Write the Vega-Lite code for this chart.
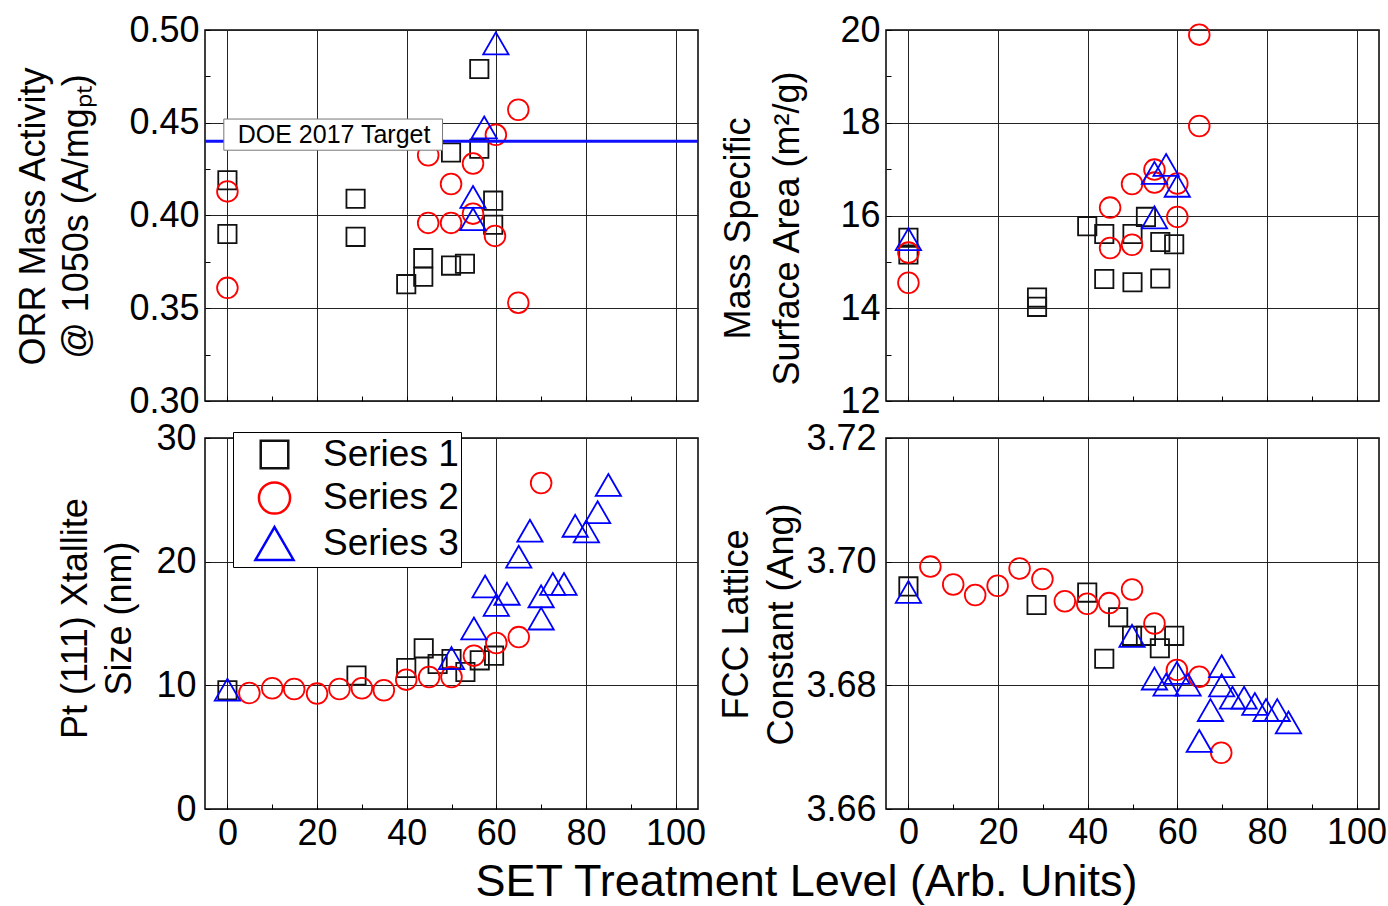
{
  "$schema": "https://vega.github.io/schema/vega-lite/v6.json",
  "padding": {"left": 14, "top": 11, "right": 5, "bottom": 0},
  "background": "white",
  "config": {
    "font": "Liberation Sans",
    "view": {"stroke": "#000", "strokeWidth": 1.5},
    "axis": {
      "labelFont": "Liberation Sans", "labelFontSize": 36, "labelColor": "#000",
      "titleFont": "Liberation Sans", "titleFontSize": 36, "titleFontWeight": "normal", "titleColor": "#000",
      "domain": false, "tickColor": "#000", "tickSize": -5, "tickWidth": 1,
      "gridColor": "#222", "gridWidth": 1
    }
  },
  "datasets": {
    "tl": [
      {"x":0,"y":0.419,"s":"Series 1"},{"x":0,"y":0.390,"s":"Series 1"},{"x":28.6,"y":0.409,"s":"Series 1"},{"x":28.6,"y":0.3885,"s":"Series 1"},
      {"x":39.9,"y":0.363,"s":"Series 1"},{"x":43.7,"y":0.377,"s":"Series 1"},{"x":43.7,"y":0.367,"s":"Series 1"},{"x":49.9,"y":0.434,"s":"Series 1"},
      {"x":49.9,"y":0.373,"s":"Series 1"},{"x":53,"y":0.374,"s":"Series 1"},{"x":56.2,"y":0.479,"s":"Series 1"},{"x":56.2,"y":0.436,"s":"Series 1"},
      {"x":59.3,"y":0.408,"s":"Series 1"},{"x":59.3,"y":0.395,"s":"Series 1"},
      {"x":0,"y":0.413,"s":"Series 2"},{"x":0,"y":0.361,"s":"Series 2"},{"x":44.8,"y":0.4325,"s":"Series 2"},{"x":44.8,"y":0.396,"s":"Series 2"},
      {"x":49.9,"y":0.417,"s":"Series 2"},{"x":49.9,"y":0.396,"s":"Series 2"},{"x":54.8,"y":0.428,"s":"Series 2"},{"x":54.8,"y":0.401,"s":"Series 2"},
      {"x":59.9,"y":0.4435,"s":"Series 2"},{"x":59.7,"y":0.389,"s":"Series 2"},{"x":64.9,"y":0.457,"s":"Series 2"},{"x":64.9,"y":0.353,"s":"Series 2"},
      {"x":59.9,"y":0.4928,"s":"Series 3"},{"x":57.3,"y":0.4475,"s":"Series 3"},{"x":54.8,"y":0.410,"s":"Series 3"},{"x":54.8,"y":0.398,"s":"Series 3"}
    ],
    "tr": [
      {"x":0,"y":15.52,"s":"Series 1"},{"x":0,"y":15.16,"s":"Series 1"},{"x":28.7,"y":14.23,"s":"Series 1"},{"x":28.7,"y":14.03,"s":"Series 1"},
      {"x":39.9,"y":15.77,"s":"Series 1"},{"x":43.7,"y":15.6,"s":"Series 1"},{"x":50,"y":15.6,"s":"Series 1"},{"x":53,"y":15.97,"s":"Series 1"},
      {"x":56.2,"y":15.43,"s":"Series 1"},{"x":59.3,"y":15.38,"s":"Series 1"},{"x":43.7,"y":14.63,"s":"Series 1"},{"x":50,"y":14.56,"s":"Series 1"},
      {"x":56.2,"y":14.64,"s":"Series 1"},
      {"x":0,"y":15.2,"s":"Series 2"},{"x":0,"y":14.55,"s":"Series 2"},{"x":64.9,"y":19.9,"s":"Series 2"},{"x":64.9,"y":17.93,"s":"Series 2"},
      {"x":54.9,"y":16.99,"s":"Series 2"},{"x":49.9,"y":16.68,"s":"Series 2"},{"x":54.9,"y":16.71,"s":"Series 2"},{"x":60,"y":16.69,"s":"Series 2"},
      {"x":45,"y":16.17,"s":"Series 2"},{"x":60,"y":15.97,"s":"Series 2"},{"x":45,"y":15.3,"s":"Series 2"},{"x":49.9,"y":15.37,"s":"Series 2"},
      {"x":0,"y":15.49,"s":"Series 3"},{"x":54.9,"y":16.92,"s":"Series 3"},{"x":57.5,"y":17.09,"s":"Series 3"},{"x":60,"y":16.64,"s":"Series 3"},
      {"x":54.9,"y":15.96,"s":"Series 3"}
    ],
    "bl": [
      {"x":0,"y":9.6,"s":"Series 1"},{"x":28.8,"y":10.8,"s":"Series 1"},{"x":39.9,"y":11.4,"s":"Series 1"},{"x":43.8,"y":12.99,"s":"Series 1"},
      {"x":46.9,"y":11.72,"s":"Series 1"},{"x":50,"y":12.13,"s":"Series 1"},{"x":53.1,"y":11.08,"s":"Series 1"},{"x":56.3,"y":12.02,"s":"Series 1"},
      {"x":59.5,"y":12.4,"s":"Series 1"},
      {"x":4.9,"y":9.38,"s":"Series 2"},{"x":10,"y":9.76,"s":"Series 2"},{"x":14.9,"y":9.7,"s":"Series 2"},{"x":20,"y":9.33,"s":"Series 2"},
      {"x":25,"y":9.7,"s":"Series 2"},{"x":30,"y":9.76,"s":"Series 2"},{"x":34.9,"y":9.6,"s":"Series 2"},{"x":39.9,"y":10.46,"s":"Series 2"},
      {"x":45,"y":10.67,"s":"Series 2"},{"x":50,"y":10.67,"s":"Series 2"},{"x":55,"y":12.4,"s":"Series 2"},{"x":60,"y":13.42,"s":"Series 2"},
      {"x":65,"y":13.9,"s":"Series 2"},{"x":70,"y":26.36,"s":"Series 2"},
      {"x":0,"y":9.65,"s":"Series 3"},{"x":50,"y":12.2,"s":"Series 3"},{"x":55,"y":14.6,"s":"Series 3"},{"x":57.5,"y":18.0,"s":"Series 3"},
      {"x":60,"y":16.5,"s":"Series 3"},{"x":62.4,"y":17.4,"s":"Series 3"},{"x":65,"y":20.4,"s":"Series 3"},{"x":67.5,"y":22.5,"s":"Series 3"},
      {"x":70,"y":17.2,"s":"Series 3"},{"x":70,"y":15.4,"s":"Series 3"},{"x":72.6,"y":18.2,"s":"Series 3"},{"x":75.1,"y":18.2,"s":"Series 3"},
      {"x":77.6,"y":22.9,"s":"Series 3"},{"x":80.1,"y":22.45,"s":"Series 3"},{"x":82.6,"y":24.0,"s":"Series 3"},{"x":85,"y":26.2,"s":"Series 3"}
    ],
    "br": [
      {"x":0,"y":3.696,"s":"Series 1"},{"x":28.6,"y":3.693,"s":"Series 1"},{"x":39.9,"y":3.695,"s":"Series 1"},{"x":46.8,"y":3.691,"s":"Series 1"},
      {"x":49.9,"y":3.688,"s":"Series 1"},{"x":53,"y":3.688,"s":"Series 1"},{"x":56.1,"y":3.686,"s":"Series 1"},{"x":59.3,"y":3.688,"s":"Series 1"},
      {"x":43.7,"y":3.6843,"s":"Series 1"},
      {"x":4.9,"y":3.6992,"s":"Series 2"},{"x":10,"y":3.6963,"s":"Series 2"},{"x":14.9,"y":3.6946,"s":"Series 2"},{"x":19.9,"y":3.6961,"s":"Series 2"},
      {"x":24.8,"y":3.6989,"s":"Series 2"},{"x":29.9,"y":3.6972,"s":"Series 2"},{"x":34.9,"y":3.6936,"s":"Series 2"},{"x":39.9,"y":3.6932,"s":"Series 2"},
      {"x":44.8,"y":3.6933,"s":"Series 2"},{"x":49.9,"y":3.6955,"s":"Series 2"},{"x":54.9,"y":3.690,"s":"Series 2"},{"x":59.9,"y":3.6825,"s":"Series 2"},
      {"x":64.9,"y":3.6814,"s":"Series 2"},{"x":69.8,"y":3.6691,"s":"Series 2"},
      {"x":0,"y":3.6951,"s":"Series 3"},{"x":49.9,"y":3.688,"s":"Series 3"},{"x":54.9,"y":3.6811,"s":"Series 3"},{"x":57.5,"y":3.6801,"s":"Series 3"},
      {"x":59.9,"y":3.682,"s":"Series 3"},{"x":62.4,"y":3.6801,"s":"Series 3"},{"x":64.9,"y":3.671,"s":"Series 3"},{"x":67.4,"y":3.676,"s":"Series 3"},
      {"x":69.9,"y":3.6831,"s":"Series 3"},{"x":69.9,"y":3.680,"s":"Series 3"},{"x":72.3,"y":3.678,"s":"Series 3"},{"x":74.9,"y":3.678,"s":"Series 3"},
      {"x":77.3,"y":3.677,"s":"Series 3"},{"x":79.8,"y":3.676,"s":"Series 3"},{"x":82.3,"y":3.676,"s":"Series 3"},{"x":84.8,"y":3.674,"s":"Series 3"}
    ],
    "doe": [{"x":-0.8,"x2":48,"y":0.452,"y2":0.4352,"tx":23.8,"ty":0.4436,"label":"DOE 2017 Target","target":0.44}]
  },
  "columns": 2,
  "bounds": "flush",
  "spacing": {"row": 37, "column": 188},
  "resolve": {"scale": {"color": "independent", "shape": "independent"}, "legend": {"color": "independent", "shape": "independent"}},
  "concat": [
    {
      "width": 493, "height": 371,
      "layer": [
        {
          "data": {"name": "tl"},
          "mark": {"type": "point", "filled": false, "strokeWidth": 1.8, "opacity": 1, "size": 640},
          "encoding": {
            "x": {"field": "x", "type": "quantitative", "scale": {"domain": [-5, 105], "nice": false, "zero": false},
                  "axis": {"values": [0,10,20,30,40,50,60,70,80,90,100], "labels": false, "title": null,
                           "gridOpacity": {"condition": {"test": "datum.value % 20 === 0", "value": 1}, "value": 0}}},
            "y": {"field": "y", "type": "quantitative", "scale": {"domain": [0.3, 0.5], "nice": false, "zero": false},
                  "axis": {"values": [0.3,0.325,0.35,0.375,0.4,0.425,0.45,0.475,0.5],
                           "labelExpr": "abs(datum.value*20 - round(datum.value*20)) < 0.001 ? format(datum.value, '.2f') : ''",
                           "labelPadding": 11,
                           "gridOpacity": {"condition": {"test": "abs(datum.value*20 - round(datum.value*20)) < 0.001", "value": 1}, "value": 0},
                           "title": ["ORR Mass Activity", "@ 1050s (A/mgₚₜ)"], "titleLineHeight": 43,
                           "titleX": -161, "titleY": 186, "titleAngle": -90, "titleAlign": "center", "titleBaseline": "alphabetic"}},
            "shape": {"field": "s", "type": "nominal", "scale": {"domain": ["Series 1","Series 2","Series 3"], "range": ["M-0.723,-0.723L0.723,-0.723L0.723,0.723L-0.723,0.723Z","M0.818,0A0.818,0.818,0,1,1,-0.818,0A0.818,0.818,0,1,1,0.818,0Z","M0,-0.866L1,0.866L-1,0.866Z"]}, "legend": null},
            "color": {"field": "s", "type": "nominal", "scale": {"domain": ["Series 1","Series 2","Series 3"], "range": ["#111111","#ff0000","#0000ff"]}, "legend": null}
          }
        },
        {
          "data": {"name": "doe"},
          "mark": {"type": "rule", "color": "#1010ff", "strokeWidth": 3},
          "encoding": {"y": {"field": "target", "type": "quantitative"}}
        },
        {
          "data": {"name": "doe"},
          "mark": {"type": "rect", "fill": "#fff", "stroke": "#777", "strokeWidth": 1},
          "encoding": {
            "x": {"field": "x", "type": "quantitative"},
            "x2": {"field": "x2"},
            "y": {"field": "y", "type": "quantitative"},
            "y2": {"field": "y2"}
          }
        },
        {
          "data": {"name": "doe"},
          "mark": {"type": "text", "font": "Liberation Sans", "fontSize": 25, "color": "#000", "align": "center", "baseline": "middle"},
          "encoding": {
            "x": {"field": "tx", "type": "quantitative"},
            "y": {"field": "ty", "type": "quantitative"},
            "text": {"field": "label"}
          }
        }
      ]
    },
    {
      "width": 493, "height": 371,
      "data": {"name": "tr"},
      "mark": {"type": "point", "filled": false, "strokeWidth": 1.8, "opacity": 1, "size": 640},
      "encoding": {
        "x": {"field": "x", "type": "quantitative", "scale": {"domain": [-5, 105], "nice": false, "zero": false},
              "axis": {"values": [0,10,20,30,40,50,60,70,80,90,100], "labels": false, "title": null,
                       "gridOpacity": {"condition": {"test": "datum.value % 20 === 0", "value": 1}, "value": 0}}},
        "y": {"field": "y", "type": "quantitative", "scale": {"domain": [12, 20], "nice": false, "zero": false},
              "axis": {"values": [12,13,14,15,16,17,18,19,20],
                       "labelExpr": "datum.value % 2 === 0 ? datum.label : ''", "labelPadding": 11,
                       "gridOpacity": {"condition": {"test": "datum.value % 2 === 0", "value": 1}, "value": 0},
                       "title": ["Mass Specific", "Surface Area (m²/g)"], "titleLineHeight": 49,
                       "titleX": -137, "titleY": 198, "titleAngle": -90, "titleAlign": "center", "titleBaseline": "alphabetic"}},
        "shape": {"field": "s", "type": "nominal", "scale": {"domain": ["Series 1","Series 2","Series 3"], "range": ["M-0.723,-0.723L0.723,-0.723L0.723,0.723L-0.723,0.723Z","M0.818,0A0.818,0.818,0,1,1,-0.818,0A0.818,0.818,0,1,1,0.818,0Z","M0,-0.866L1,0.866L-1,0.866Z"]}, "legend": null},
        "color": {"field": "s", "type": "nominal", "scale": {"domain": ["Series 1","Series 2","Series 3"], "range": ["#111111","#ff0000","#0000ff"]}, "legend": null}
      }
    },
    {
      "width": 493, "height": 371,
      "data": {"name": "bl"},
      "mark": {"type": "point", "filled": false, "strokeWidth": 1.8, "opacity": 1, "size": 640},
      "encoding": {
        "x": {"field": "x", "type": "quantitative", "scale": {"domain": [-5, 105], "nice": false, "zero": false},
              "axis": {"values": [0,10,20,30,40,50,60,70,80,90,100],
                       "labelExpr": "datum.value % 20 === 0 ? datum.label : ''", "labelPadding": 12,
                       "gridOpacity": {"condition": {"test": "datum.value % 20 === 0", "value": 1}, "value": 0},
                       "title": "SET Treatment Level (Arb. Units)", "titleFontSize": 45,
                       "titleX": 601, "titleY": 86, "titleAlign": "center", "titleBaseline": "alphabetic"}},
        "y": {"field": "y", "type": "quantitative", "scale": {"domain": [0, 30], "nice": false, "zero": false},
              "axis": {"values": [0,10,20,30], "labelPadding": 14,
                       "title": ["Pt (111) Xtallite", "Size (nm)"], "titleLineHeight": 44,
                       "titleX": -119, "titleY": 180, "titleAngle": -90, "titleAlign": "center", "titleBaseline": "alphabetic"}},
        "shape": {"field": "s", "type": "nominal", "scale": {"domain": ["Series 1","Series 2","Series 3"], "range": ["M-0.723,-0.723L0.723,-0.723L0.723,0.723L-0.723,0.723Z","M0.818,0A0.818,0.818,0,1,1,-0.818,0A0.818,0.818,0,1,1,0.818,0Z","M0,-0.866L1,0.866L-1,0.866Z"]},
                  "legend": {"orient": "none", "legendX": 28, "legendY": -6, "title": null, "symbolSize": 1450, "symbolStrokeWidth": 2.5,
                             "labelFont": "Liberation Sans", "labelFontSize": 37, "labelColor": "#000", "labelLimit": 0,
                             "padding": 2, "symbolOffset": 19, "labelOffset": 28, "rowPadding": 2.5,
                             "strokeColor": "#000", "fillColor": "#fff"}},
        "color": {"field": "s", "type": "nominal", "scale": {"domain": ["Series 1","Series 2","Series 3"], "range": ["#111111","#ff0000","#0000ff"]},
                  "legend": {"orient": "none", "legendX": 28, "legendY": -6, "title": null, "symbolSize": 1450, "symbolStrokeWidth": 2.5,
                             "labelFont": "Liberation Sans", "labelFontSize": 37, "labelColor": "#000", "labelLimit": 0,
                             "padding": 2, "symbolOffset": 19, "labelOffset": 28, "rowPadding": 2.5,
                             "strokeColor": "#000", "fillColor": "#fff"}}
      }
    },
    {
      "width": 493, "height": 371,
      "data": {"name": "br"},
      "mark": {"type": "point", "filled": false, "strokeWidth": 1.8, "opacity": 1, "size": 640},
      "encoding": {
        "x": {"field": "x", "type": "quantitative", "scale": {"domain": [-5, 105], "nice": false, "zero": false},
              "axis": {"values": [0,10,20,30,40,50,60,70,80,90,100],
                       "labelExpr": "datum.value % 20 === 0 ? datum.label : ''", "labelPadding": 11, "title": null,
                       "gridOpacity": {"condition": {"test": "datum.value % 20 === 0", "value": 1}, "value": 0}}},
        "y": {"field": "y", "type": "quantitative", "scale": {"domain": [3.66, 3.72], "nice": false, "zero": false},
              "axis": {"values": [3.66,3.68,3.70,3.72], "format": ".2f", "labelPadding": 15,
                       "title": ["FCC Lattice", "Constant (Ang)"], "titleLineHeight": 45,
                       "titleX": -139, "titleY": 186, "titleAngle": -90, "titleAlign": "center", "titleBaseline": "alphabetic"}},
        "shape": {"field": "s", "type": "nominal", "scale": {"domain": ["Series 1","Series 2","Series 3"], "range": ["M-0.723,-0.723L0.723,-0.723L0.723,0.723L-0.723,0.723Z","M0.818,0A0.818,0.818,0,1,1,-0.818,0A0.818,0.818,0,1,1,0.818,0Z","M0,-0.866L1,0.866L-1,0.866Z"]}, "legend": null},
        "color": {"field": "s", "type": "nominal", "scale": {"domain": ["Series 1","Series 2","Series 3"], "range": ["#111111","#ff0000","#0000ff"]}, "legend": null}
      }
    }
  ]
}
